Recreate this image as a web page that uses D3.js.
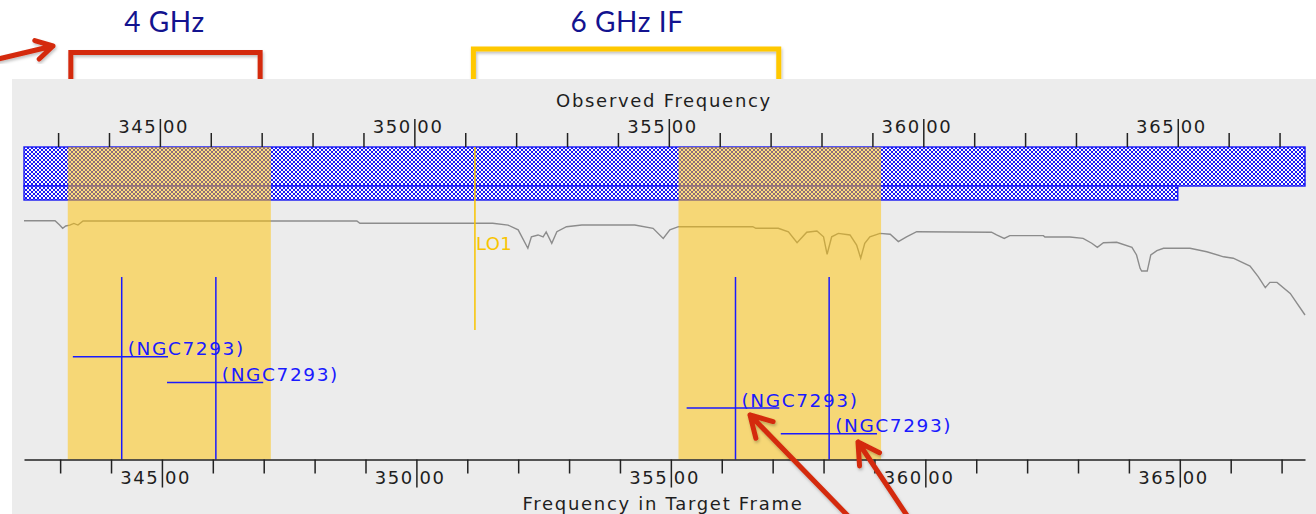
<!DOCTYPE html>
<html>
<head>
<meta charset="utf-8">
<script src="https://cdn.jsdelivr.net/npm/d3@7"></script>
<style>
  html, body { margin: 0; padding: 0; background: #ffffff; }
  svg { display: block; }
  text { font-family: "DejaVu Sans", sans-serif; }
</style>
</head>
<body>
<svg id="chart" width="1316" height="514"></svg>
<script>
// ---------------- data ----------------
// Plotted frequency coverage, observed frame (GHz)
const observedRange = [342.33, 367.5];
// Observed minus target-frame frequency (GHz)
const frameOffset = 0.04;
const tickValues = d3.range(343, 368);
const majorTickValues = [345, 350, 355, 360, 365];

// Spectral windows, observed frame, stacked in two rows
const windowLo = [342.33, 342.33];
const windowHi = [367.5, 365.0];

// IF sidebands, observed frame
const sidebandLo = [343.19, 355.19];
const sidebandHi = [347.18, 359.17];
const loFreq = 351.19;
const loLabel = "LO1";

// Spectral lines, target frame
const lineFreq = [344.21, 346.06, 356.27, 358.11];
const lineLo = [343.25, 345.10, 355.31, 357.16];
const lineHi = [345.12, 346.99, 357.13, 359.05];
const lineLabel = ["(NGC7293)", "(NGC7293)", "(NGC7293)", "(NGC7293)"];

// Atmospheric transmission, observed frame
const atmFreq = [342.33, 342.94, 343.03, 343.09, 343.15, 343.23, 343.31, 343.39, 343.49, 348.87,
  348.93, 351.54, 351.84, 352.04, 352.23, 352.30, 352.43, 352.53, 352.59, 352.70,
  352.80, 352.99, 353.29, 354.33, 354.69, 354.89, 355.02, 355.19, 356.65, 356.71,
  357.15, 357.35, 357.52, 357.71, 357.91, 358.04, 358.11, 358.20, 358.33, 358.56,
  358.69, 358.77, 358.85, 358.95, 359.15, 359.35, 359.51, 359.67, 359.87, 361.34,
  361.44, 361.59, 361.70, 362.36, 362.39, 362.88, 363.14, 363.31, 363.42, 363.54,
  363.80, 364.10, 364.19, 364.26, 364.29, 364.40, 364.47, 364.59, 364.72, 365.24,
  365.57, 365.90, 366.09, 366.42, 366.58, 366.72, 366.81, 366.95, 367.21, 367.50];
const atmTrans = [0.910, 0.910, 0.891, 0.877, 0.887, 0.891, 0.898, 0.891, 0.909, 0.909,
  0.899, 0.899, 0.891, 0.870, 0.790, 0.840, 0.848, 0.840, 0.861, 0.812,
  0.862, 0.884, 0.891, 0.891, 0.877, 0.833, 0.870, 0.884, 0.884, 0.877,
  0.877, 0.862, 0.814, 0.860, 0.865, 0.840, 0.764, 0.840, 0.855, 0.848,
  0.804, 0.747, 0.812, 0.840, 0.855, 0.851, 0.819, 0.840, 0.862, 0.860,
  0.848, 0.833, 0.845, 0.845, 0.839, 0.839, 0.833, 0.812, 0.794, 0.814,
  0.816, 0.794, 0.761, 0.703, 0.691, 0.691, 0.761, 0.780, 0.790, 0.790,
  0.775, 0.753, 0.747, 0.713, 0.667, 0.619, 0.642, 0.642, 0.594, 0.500];

// Slide annotations
const bracketLo = [343.25, 351.16];
const bracketHi = [346.97, 357.16];
const bracketText = ["4 GHz", "6 GHz IF"];
const bracketColor = ["#d42a0e", "#ffc800"];

// ---------------- layout ----------------
const svg = d3.select("#chart");
const W = 1316, H = 514;
const panel = { x: 12, y: 79 };
const plotX = [24, 1305];
const bandTop = 147, bandRowH = [39, 14];
const axisY = 459.5;
const blue = "#1818f4";

const xObs = d3.scaleLinear().domain(observedRange).range(plotX);
const xTgt = d3.scaleLinear()
  .domain(observedRange.map(f => f - frameOffset)).range(plotX);
const yTrans = d3.scaleLinear().domain([0, 1]).range([430, 200]);

const defs = svg.append("defs");
// pixel cross-hatch on a white ground
const hatch = defs.append("pattern")
  .attr("id", "hatch").attr("patternUnits", "userSpaceOnUse")
  .attr("width", 4).attr("height", 4);
hatch.append("rect").attr("width", 4).attr("height", 4).attr("fill", "#fbfbff");
[[0, 0], [1, 1], [2, 2], [3, 3], [3, 0], [2, 1], [1, 2], [0, 3]].forEach(([px, py]) => {
  hatch.append("rect").attr("x", px).attr("y", py).attr("width", 1).attr("height", 1)
    .attr("fill", blue).attr("shape-rendering", "crispEdges");
});

const shadow = defs.append("filter").attr("id", "shadow")
  .attr("x", "-10%").attr("y", "-10%").attr("width", "130%").attr("height", "130%");
shadow.append("feDropShadow").attr("dx", 1).attr("dy", 2)
  .attr("stdDeviation", 1.5).attr("flood-color", "#000").attr("flood-opacity", 0.25);

// annotation brackets (behind the panel)
const ann = svg.append("g");
bracketText.forEach((t, i) => {
  const a = xObs(bracketLo[i]), b = xObs(bracketHi[i]);
  const top = i === 0 ? 52.5 : 49;
  ann.append("path")
    .attr("d", `M${a},${panel.y + 2}V${top}H${b}V${panel.y + 2}`)
    .attr("fill", "none").attr("stroke", bracketColor[i]).attr("stroke-width", 5)
    .attr("filter", "url(#shadow)");
  ann.append("text")
    .attr("x", (a + b) / 2 + (i === 0 ? -1 : 1)).attr("y", 32)
    .attr("text-anchor", "middle")
    .style("font-family", "Lato, 'Open Sans', sans-serif")
    .style("font-size", "28px").style("letter-spacing", "0.6px")
    .attr("fill", "#13138f").text(t);
});

// chart panel
svg.append("rect").attr("x", panel.x).attr("y", panel.y)
  .attr("width", W - panel.x).attr("height", H - panel.y).attr("fill", "#ececec");

// atmospheric transmission curve
const atm = atmFreq.map((f, i) => [f, atmTrans[i]]);
svg.append("path").datum(atm)
  .attr("d", d3.line().x(d => xObs(d[0])).y(d => yTrans(d[1])))
  .attr("fill", "none").attr("stroke", "#8c8c8c").attr("stroke-width", 1.4);

// spectral windows
const rows = [];
let rowY = bandTop;
windowLo.forEach((lo, i) => {
  rows.push({ x: xObs(lo), y: rowY, w: xObs(windowHi[i]) - xObs(lo), h: bandRowH[i] });
  rowY += bandRowH[i];
});
svg.append("g").selectAll("rect").data(rows).join("rect")
  .attr("x", d => d.x).attr("y", d => d.y).attr("width", d => d.w).attr("height", d => d.h)
  .attr("fill", "url(#hatch)").attr("stroke", blue).attr("stroke-width", 1.4);

// IF sidebands (translucent overlay)
sidebandLo.forEach((lo, i) => {
  svg.append("rect")
    .attr("x", xObs(lo)).attr("y", bandTop)
    .attr("width", xObs(sidebandHi[i]) - xObs(lo)).attr("height", axisY - bandTop)
    .attr("fill", "rgb(255,194,0)").attr("fill-opacity", 0.5);
});

// LO marker
svg.append("line")
  .attr("x1", xObs(loFreq)).attr("x2", xObs(loFreq))
  .attr("y1", bandTop).attr("y2", 330)
  .attr("stroke", "#f8c400").attr("stroke-width", 1.5);
svg.append("text")
  .attr("x", xObs(loFreq) + 1).attr("y", 250)
  .style("font-size", "18px").style("letter-spacing", "0.4px")
  .attr("fill", "#f8c400").text(loLabel);

// spectral lines
const rowStart = 356.7, rowGap = 25.7;
const lines = svg.append("g").attr("stroke", "#1a1aff").attr("stroke-width", 1.5);
lineFreq.forEach((f, i) => {
  const y = rowStart + i * rowGap;
  lines.append("line")
    .attr("x1", xTgt(f)).attr("x2", xTgt(f)).attr("y1", 277).attr("y2", axisY);
  lines.append("line")
    .attr("x1", xTgt(lineLo[i])).attr("x2", xTgt(lineHi[i])).attr("y1", y).attr("y2", y);
  svg.append("text")
    .attr("x", xTgt(f) + 6).attr("y", y - 1.5)
    .style("font-size", "18.5px").style("letter-spacing", "1.6px")
    .attr("fill", "#1a1aff").text(lineLabel[i]);
});

// axes
function styleAxis(g, dir) {
  g.select(".domain").attr("stroke", "#222").attr("stroke-width", 1.5);
  g.selectAll(".tick line").attr("stroke", "#222").attr("stroke-width", 1.5)
    .filter(d => majorTickValues.includes(d)).attr("y2", dir * 28);
  g.selectAll(".tick text").remove();
}
function addLabels(scale, y) {
  const lab = svg.append("g").attr("fill", "#1e1e1e")
    .style("font-size", "18px").style("letter-spacing", "1.6px");
  majorTickValues.forEach(v => {
    const x = scale(v);
    lab.append("text").attr("x", x - 2.5).attr("y", y)
      .attr("text-anchor", "end").text(String(v));
    lab.append("text").attr("x", x + 3).attr("y", y).text("00");
  });
}

const topAxis = svg.append("g").attr("transform", `translate(0,${bandTop})`)
  .call(d3.axisTop(xObs).tickValues(tickValues).tickSize(14).tickSizeOuter(0));
topAxis.select(".domain").remove();
styleAxis(topAxis, -1);
addLabels(xObs, 133);

const botAxis = svg.append("g").attr("transform", `translate(0,${axisY})`)
  .call(d3.axisBottom(xTgt).tickValues(tickValues).tickSize(14).tickSizeOuter(0));
styleAxis(botAxis, 1);
addLabels(xTgt, 484);

// axis titles
svg.append("text").attr("x", 664).attr("y", 107).attr("text-anchor", "middle")
  .style("font-size", "18px").style("letter-spacing", "1.7px").attr("fill", "#1e1e1e")
  .text("Observed Frequency");
svg.append("text").attr("x", 663).attr("y", 510).attr("text-anchor", "middle")
  .style("font-size", "18px").style("letter-spacing", "1.7px").attr("fill", "#1e1e1e")
  .text("Frequency in Target Frame");

// slide arrows
function arrow(x0, y0, x1, y1, len) {
  const ang = Math.atan2(y0 - y1, x0 - x1), spread = Math.PI / 6;
  const a1 = [x1 + len * Math.cos(ang + spread), y1 + len * Math.sin(ang + spread)];
  const a2 = [x1 + len * Math.cos(ang - spread), y1 + len * Math.sin(ang - spread)];
  svg.append("path")
    .attr("d", `M${x0},${y0}L${x1},${y1}M${a1[0]},${a1[1]}L${x1},${y1}L${a2[0]},${a2[1]}`)
    .attr("fill", "none").attr("stroke", "#d42a0e").attr("stroke-width", 5)
    .attr("stroke-linecap", "round").attr("stroke-linejoin", "round")
    .attr("filter", "url(#shadow)");
}
arrow(-6, 60, 53, 46, 19);
arrow(852, 520, 750, 415, 24);
arrow(910, 520, 858, 442, 24);
</script>
</body>
</html>
